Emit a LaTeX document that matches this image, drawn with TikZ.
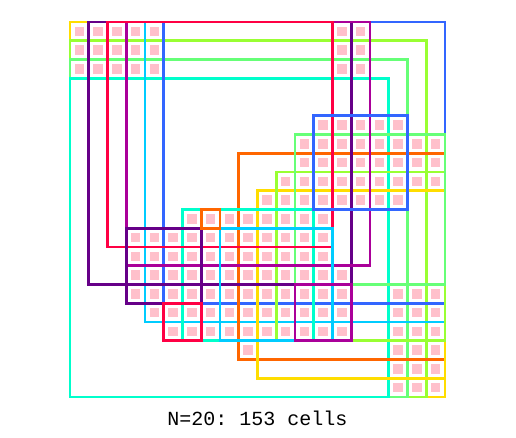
\documentclass[tikz,border=0pt]{standalone}
\usepackage{fontspec}
\setmonofont{Liberation Mono}
\usepackage{xcolor}
\usepackage{tikz}
\usetikzlibrary{calc,positioning}
\definecolor{bxyel}{RGB}{255,221,0}
\definecolor{bxygr}{RGB}{153,255,51}
\definecolor{bxlgr}{RGB}{102,255,119}
\definecolor{bxaqu}{RGB}{0,255,204}
\definecolor{bxcya}{RGB}{0,204,255}
\definecolor{bxblu}{RGB}{51,102,255}
\definecolor{bxpur}{RGB}{102,0,136}
\definecolor{bxmag}{RGB}{170,0,153}
\definecolor{bxred}{RGB}{255,0,68}
\definecolor{bxora}{RGB}{255,102,0}
\definecolor{cellpink}{RGB}{255,192,203}

\begin{document}
\begin{tikzpicture}[x=18.75pt,y=-18.75pt]
    \tikzset{cellsq/.style={fill=cellpink,draw=none,minimum width=9.5pt,minimum height=9.5pt,inner sep=0pt,anchor=center},
             frame/.style={line width=2.8pt}}
    \useasboundingbox (-3.7333,-1.1733) rectangle (23.7867,22.1867);
    % pink cells, row/first col/last col
    \foreach \r/\a/\b in {0/0/4,0/14/15,1/0/4,1/14/15,2/0/4,2/14/15,
                          5/13/17,6/12/19,7/12/19,8/11/19,9/10/17,10/6/13,
                          11/3/13,12/3/13,13/3/14,14/3/14,14/17/19,15/4/14,15/17/19,
                          16/5/14,16/17/19,17/9/9,17/17/19,18/17/19,19/17/19}{
      \foreach \c in {\a,...,\b}{
        \node[cellsq] (p-\r-\c) at ({\c+0.5},{\r+0.5}) {};
      }
    }
    % outlines, in drawing order
    \foreach \col/\xa/\ya/\xb/\yb in {bxyel/0/0/20/20,bxygr/0/1/19/20,bxlgr/0/2/18/20,bxaqu/0/3/17/20,
                                     bxcya/4/0/20/16,bxblu/5/0/20/15,bxora/9/7/20/18,
                                     bxyel/10/9/20/19,bxygr/11/8/20/17,bxlgr/12/6/20/14,bxaqu/6/10/13/17,
                                     bxpur/1/0/15/14,bxmag/3/0/16/13,bxred/2/0/14/12,
                                     bxcya/8/11/14/17,bxblu/13/5/18/10,bxpur/3/11/7/15,
                                     bxmag/12/14/15/17,bxred/5/15/7/17,bxora/7/10/8/11}{
      \draw[frame,draw=\col] (\xa,\ya) rectangle (\xb,\yb);
    }
    \node[font=\ttfamily\fontsize{20}{20}\selectfont] (caption) at (10,21.12) {N=20: 153 cells};
  \end{tikzpicture}
\end{document}
